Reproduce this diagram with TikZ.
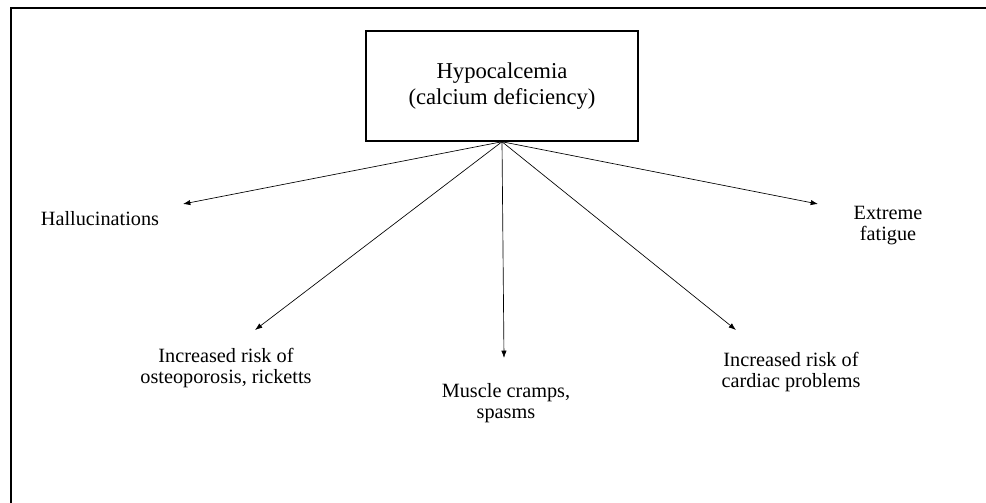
\documentclass[tikz,border=0pt]{standalone}
\usepackage{fontspec}
\setmainfont{Liberation Serif}
\usetikzlibrary{arrows.meta}
\begin{document}
\begin{tikzpicture}[x=0.75pt,y=-0.75pt,
  rootbox/.style={draw, line width=1.1pt, minimum width=204pt, minimum height=82.5pt,
    inner sep=0pt, align=center, font=\fontsize{17}{19}\selectfont},
  symptom/.style={inner sep=0pt, align=center, font=\fontsize{15.2}{15.75}\selectfont},
  link/.style={line width=0.5pt, -{Latex[length=5.5pt,width=4pt]}}]
  \useasboundingbox (0,0) rectangle (986,503);
  % frame: left and top edges only
  \draw[line width=1.3pt] (11,503) -- (11,8) -- (986,8);

  \node[rootbox] (hypo) at (502,86) {Hypocalcemia\\(calcium deficiency)};

  % symptom labels, placed by the baseline of their last line
  \node[symptom, anchor=base] (hall) at (100,225) {Hallucinations};
  \node[symptom, anchor=base] (fatigue) at (888,240) {Extreme\\fatigue};
  \node[symptom, anchor=base] (osteo) at (226,383) {Increased risk of\\osteoporosis, ricketts};
  \node[symptom, anchor=base] (muscle) at (506,418) {Muscle cramps,\\spasms};
  \node[symptom, anchor=base] (cardiac) at (791,387) {Increased risk of\\cardiac problems};

  \coordinate (tipHall) at (183,204);
  \coordinate (tipFatigue) at (818,204);
  \coordinate (tipOsteo) at (255,330);
  \coordinate (tipMuscle) at (504,358);
  \coordinate (tipCardiac) at (736,330);

  \draw[link] (hypo.south) -- (tipHall);
  \draw[link] (hypo.south) -- (tipOsteo);
  \draw[link] (hypo.south) -- (tipMuscle);
  \draw[link] (hypo.south) -- (tipCardiac);
  \draw[link] (hypo.south) -- (tipFatigue);
\end{tikzpicture}
\end{document}
